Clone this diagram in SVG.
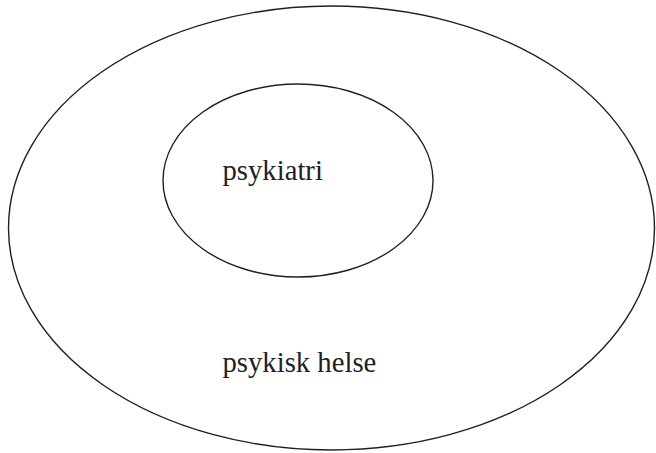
<svg xmlns="http://www.w3.org/2000/svg" width="656" height="453" viewBox="0 0 656 453">
  <style>
    .ring { fill: none; stroke: #231f20; stroke-width: 1.4; }
    .label { font-family: "Liberation Serif", "Times New Roman", serif; font-size: 28.7px; fill: #231f20; }
  </style>
  <rect width="656" height="453" fill="#ffffff"/>
  <g id="psykisk-helse">
    <ellipse class="ring" cx="331.5" cy="228" rx="323" ry="222"/>
    <text class="label" x="222.5" y="372">psykisk helse</text>
  </g>
  <g id="psykiatri">
    <ellipse class="ring" cx="298" cy="180.5" rx="135" ry="96.5"/>
    <text class="label" x="222.5" y="180">psykiatri</text>
  </g>
  <g id="connectors"></g>
</svg>
